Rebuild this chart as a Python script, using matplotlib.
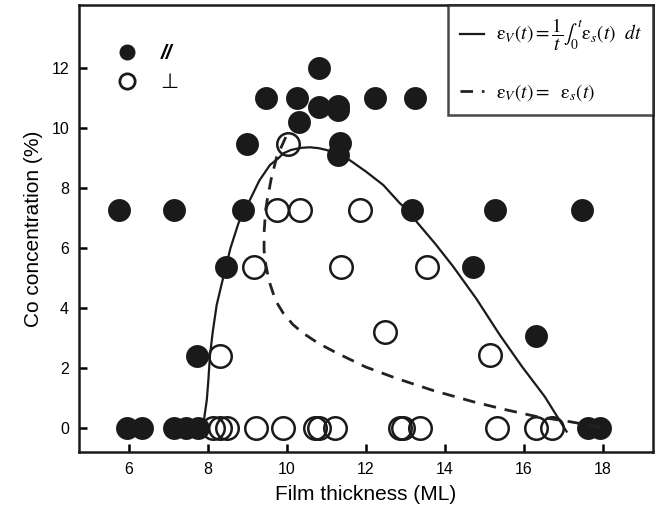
import matplotlib
matplotlib.use("Agg")
import matplotlib.pyplot as plt
from matplotlib.lines import Line2D

plt.rcParams['font.family'] = ['Liberation Sans', 'DejaVu Sans']
plt.rcParams['mathtext.fontset'] = 'stix'

# parallel (//) concentrations: thickness (ML), Co (%)
par_x = [5.75, 7.13, 8.88, 13.16, 15.28, 17.46,
         8.45, 14.70, 7.71, 16.30,
         9.0, 9.47, 10.26, 10.31, 10.81, 10.81, 11.30, 11.30, 11.34, 11.30, 12.23, 13.24,
         5.94, 6.32, 7.15, 7.45, 7.75, 17.62, 17.92]
par_y = [7.27, 7.27, 7.27, 7.27, 7.27, 7.27,
         5.38, 5.38, 2.41, 3.08,
         9.47, 11.0, 11.0, 10.21, 10.71, 12.0, 10.75, 10.6, 9.49, 9.1, 11.0, 11.0,
         0, 0, 0, 0, 0, 0, 0]

# perpendicular concentrations
perp_x = [10.03, 9.74, 10.33, 11.85, 9.17, 8.30, 11.37, 13.54, 12.48, 15.14,
          8.13, 8.30, 8.47, 9.21, 9.89, 10.71, 10.81, 11.22,
          12.86, 12.94, 13.37, 15.31, 16.30, 16.70]
perp_y = [9.47, 7.27, 7.27, 7.27, 5.38, 2.41, 5.38, 5.38, 3.19, 2.43,
          0, 0, 0, 0, 0, 0, 0, 0,
          0, 0, 0, 0, 0, 0]

# averaged model curve
avg_x = [7.88, 7.91, 7.97, 8.01, 8.05, 8.12, 8.22, 8.39, 8.57, 8.77, 8.92, 9.06, 9.3,
         9.57, 9.78, 9.91, 10.1, 10.35, 10.58, 10.8, 11.0, 11.3, 11.59, 12.0, 12.44,
         12.86, 13.16, 13.28, 13.75, 14.21, 14.8, 15.39, 15.95, 16.53, 17.08]
avg_y = [-0.05, 0.38, 0.93, 1.6, 2.41, 3.2, 4.1, 5.04, 6.0, 6.82, 7.25, 7.6, 8.25,
         8.77, 8.99, 9.16, 9.27, 9.34, 9.36, 9.33, 9.27, 9.13, 8.93, 8.55, 8.1,
         7.49, 7.15, 6.88, 6.15, 5.38, 4.3, 3.1, 2.05, 1.04, -0.12]

# instantaneous model curve
inst_x = [9.97, 9.85, 9.74, 9.6, 9.5, 9.46, 9.42, 9.42, 9.45, 9.49, 9.56, 9.65, 9.77,
          9.91, 10.15, 10.41, 10.8, 11.26, 12.0, 12.78, 13.7, 14.7, 15.5, 16.32, 17.16, 18.18]
inst_y = [9.7, 9.35, 9.04, 8.3, 7.6, 7.27, 6.5, 5.93, 5.55, 5.27, 4.85, 4.49, 4.12,
          3.82, 3.45, 3.16, 2.82, 2.5, 2.03, 1.65, 1.25, 0.88, 0.62, 0.38, 0.21, -0.03]

fig = plt.figure(figsize=(6.57, 5.13), dpi=100)
ax = fig.add_axes([0.120, 0.119, 0.874, 0.871])

ax.plot(par_x, par_y, 'o', ms=16.5, mfc='#1a1a1a', mec='#1a1a1a', mew=0, zorder=3)
ax.plot(perp_x, perp_y, 'o', ms=16.2, mfc='none', mec='#1a1a1a', mew=1.8, zorder=3)

l1, = ax.plot(avg_x, avg_y, '-', color='#1a1a1a', lw=1.6, zorder=4)
l2, = ax.plot(inst_x, inst_y, '--', color='#222222', lw=2.0, dashes=(4.5, 3.2), zorder=4)

ax.set_xlim(4.73, 19.27)
ax.set_ylim(-0.8, 14.1)
ax.set_xticks([6, 8, 10, 12, 14, 16, 18])
ax.set_yticks([0, 2, 4, 6, 8, 10, 12])
ax.tick_params(direction='in', length=6, width=1.8, labelsize=11.5, pad=7)
for s in ax.spines.values():
    s.set_linewidth(1.8)
    s.set_color('#1a1a1a')

ax.set_xlabel('Film thickness (ML)', fontsize=15, labelpad=6)
ax.set_ylabel('Co concentration (%)', fontsize=15, labelpad=6)

leg = ax.legend([l1, l2],
                [r'$\mathrm{\varepsilon}_{V}(t) =\dfrac{1}{t}\int_0^t \mathrm{\varepsilon}_{s}(t)\ \ dt$',
                 r'$\mathrm{\varepsilon}_{V}(t) =\ \ \mathrm{\varepsilon}_{s}(t)$'],
                loc='upper right', fontsize=14, handlelength=1.25,
                borderaxespad=0, fancybox=False, edgecolor='#1a1a1a',
                labelspacing=1.5, borderpad=0.6, handletextpad=0.6)
leg.get_frame().set_linewidth(1.8)
ax.add_artist(leg)

h_par = Line2D([], [], ls='none', marker='o', ms=10.5, mfc='#1a1a1a', mec='#1a1a1a')
h_perp = Line2D([], [], ls='none', marker='o', ms=11, mfc='none', mec='#1a1a1a', mew=2)
leg2 = ax.legend([h_par, h_perp], ['//', '⊥'], loc='upper left',
                 bbox_to_anchor=(0.015, 0.955), frameon=False, fontsize=15,
                 handletextpad=0.6, labelspacing=0.5)
leg2.get_texts()[0].set_fontweight('bold')
leg2.get_texts()[0].set_fontstyle('italic')

fig.savefig('out.png', dpi=100)
